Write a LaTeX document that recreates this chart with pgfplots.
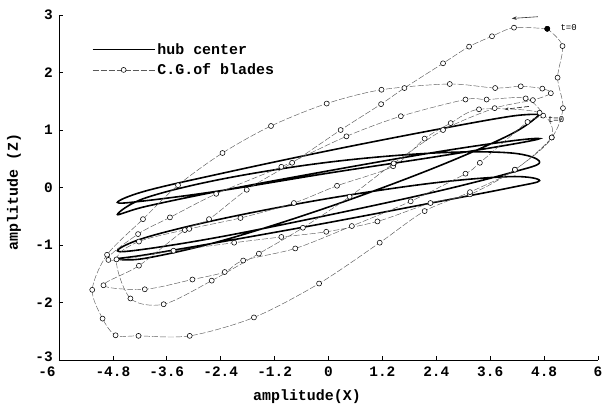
\documentclass[border=0pt]{standalone}
\usepackage{fontspec}
\setmainfont{Liberation Mono}
\usepackage{pgfplots}
\pgfplotsset{compat=1.18}
\usetikzlibrary{arrows.meta,calc}

\newcommand\tickfont{\fontsize{14.5}{15}\selectfont\bfseries}
\newcommand\labfont{\fontsize{15}{16}\selectfont\bfseries}

\begin{document}
\begin{tikzpicture}
\begin{axis}[
  scale only axis, width=539bp, height=345bp,
  xmin=-6, xmax=6, ymin=-3, ymax=3,
  axis x line=bottom, axis y line=left,
  axis line style={-, line width=0.9pt},
  xtick={-6,-4.8,-3.6,-2.4,-1.2,0,1.2,2.4,3.6,4.8,6},
  xticklabels={{\makebox[0pt]{\hspace*{-24bp}-6}},-4.8,-3.6,-2.4,-1.2,0,1.2,2.4,3.6,4.8,6},
  ytick={-3,-2,-1,0,1,2,3},
  yticklabels={{\raisebox{6bp}{-3}},-2,-1,0,1,2,3},
  tick align=inside, major tick length=4bp,
  tick style={line width=0.8pt, black},
  tick label style={font=\tickfont, inner sep=1bp},
  yticklabel style={xshift=-5bp},
  xticklabel style={yshift=-6bp},
  xlabel={amplitude(X)}, ylabel={amplitude (Z)},
  label style={font=\labfont},
  xlabel style={at={(axis description cs:0.46,-0.075)}, anchor=north},
  ylabel style={at={(axis description cs:-0.064,0.487)}, anchor=south},
  legend style={at={(0.055,0.93)}, anchor=north west, draw=none, fill=none,
    font=\labfont, row sep=4bp},
  legend cell align=left,
  legend image code/.code={%
    \draw[mark repeat=2, mark phase=2, #1]
      plot coordinates {(0bp,0bp) (31bp,0bp) (62bp,0bp)};},
  clip=false,
]

% hub center: eight sweeps between the right and left turning points
\addplot[black, line width=1.6pt, smooth, tension=0.6] coordinates {
  (4.70,1.27) (4.07,1.24) (2.35,1.00) (0,0.64) (-2.35,0.25) (-4.07,-0.06) (-4.70,-0.26)
  (-4.07,-0.23) (-2.35,-0.05) (0,0.25) (2.35,0.53) (4.07,0.75) (4.70,0.85)
  (4.07,0.81) (2.35,0.61) (0,0.29) (-2.35,-0.05) (-4.07,-0.33) (-4.70,-0.47)
  (-4.07,-0.18) (-2.35,0.15) (0,0.44) (2.35,0.60) (4.07,0.60) (4.70,0.44)
  (4.07,0.26) (2.35,-0.08) (0,-0.48) (-2.35,-0.85) (-4.07,-1.07) (-4.70,-1.10)
  (-4.07,-0.87) (-2.35,-0.54) (0,-0.19) (2.35,0.08) (4.07,0.19) (4.70,0.12)
  (4.07,0.00) (2.35,-0.26) (0,-0.61) (-2.35,-0.94) (-4.07,-1.17) (-4.70,-1.24)
  (-4.07,-1.23) (-2.35,-0.92) (0,-0.34) (2.35,0.34) (4.07,0.93) (4.70,1.27)
};
\addlegendentry{hub center}

% centre of gravity of the blades
\addplot[black!65, line width=0.45pt, dash pattern=on 6bp off 2bp,
  smooth, tension=0.5,
  mark=*, mark size=2.5bp,
  mark options={solid, draw=black, fill=white, line width=0.55pt}] coordinates {
  (4.87,2.76) (4.13,2.78) (3.64,2.63) (3.13,2.45) (2.55,2.16) (1.69,1.73) (1.17,1.45)
  (0.27,1.00) (-0.81,0.43) (-1.82,-0.04) (-2.66,-0.55) (-3.20,-0.74) (-4.22,-1.36)
  (-5.01,-1.70) (-4.09,-1.77) (-3.03,-1.60) (-2.31,-1.47) (-1.90,-1.27) (-0.74,-1.06)
  (0.52,-0.67) (1.83,-0.24) (3.05,0.24) (3.37,0.43) (4.43,1.14) (4.78,1.25)
  (4.39,1.55) (3.52,1.53) (3.05,1.53) (1.61,1.24) (0.40,0.89) (-1.05,0.36) (-2.50,-0.11)
  (-3.53,-0.52) (-4.24,-0.81) (-4.90,-1.26) (-3.45,-1.10) (-2.10,-0.96) (-1.05,-0.86)
  (-0.05,-0.77) (1.09,-0.59) (2.27,-0.27) (3.15,-0.12) (4.15,0.31) (4.97,0.87)
  (4.70,1.30) (3.35,1.36) (2.72,1.12) (2.14,0.85) (1.44,0.37) (0.19,0.03) (-0.77,-0.27)
  (-1.96,-0.53) (-3.10,-0.72) (-4.22,-0.94) (-4.72,-1.25) (-4.41,-1.93) (-3.67,-2.03)
  (-2.60,-1.62) (-1.55,-1.15) (-0.57,-0.70) (0.47,-0.16) (1.45,0.42) (2.55,1.00)
  (3.70,1.38) (4.55,1.52) (4.95,1.64)
  (4.76,1.72) (4.28,1.76) (3.71,1.73) (2.70,1.80) (1.18,1.70) (-0.04,1.46) (-1.28,1.07)
  (-2.36,0.60) (-3.35,0.04) (-4.13,-0.55) (-4.93,-1.17) (-5.26,-1.78) (-5.03,-2.28)
  (-4.74,-2.57) (-4.23,-2.58) (-3.09,-2.58) (-1.66,-2.26) (-0.21,-1.67) (1.14,-0.96)
  (2.14,-0.41) (3.15,-0.08) (4.15,0.31) (4.97,0.87) (5.22,1.38) (5.10,1.91) (5.21,2.46)
  (4.87,2.76)
};
\addlegendentry{C.G.of blades}

% starting point of the blade path
\addplot[only marks, mark=*, mark size=2.5bp, black, forget plot] coordinates {(4.87,2.76)};

% direction of motion and start labels
\draw[-{Stealth[length=5bp,width=3.5bp]}, line width=0.6pt, black!80]
  (axis cs:4.66,2.97) -- (axis cs:4.08,2.94);
\draw[-{Stealth[length=4bp,width=3bp]}, line width=0.7pt, black!80, dash pattern=on 5bp off 2bp]
  (axis cs:4.46,1.41) -- (axis cs:3.92,1.36);
\node[anchor=west, font=\fontsize{9}{10}\selectfont, inner sep=1bp] at (axis cs:5.14,2.79) {t=0};
\node[anchor=west, font=\fontsize{9}{10}\selectfont, inner sep=1bp] at (axis cs:4.86,1.19) {t=0};
\end{axis}
\pgfresetboundingbox
\path ($(current axis.south west)+(-59bp,-47bp)$) rectangle ($(current axis.north east)+(8bp,15bp)$);
\end{tikzpicture}
\end{document}
